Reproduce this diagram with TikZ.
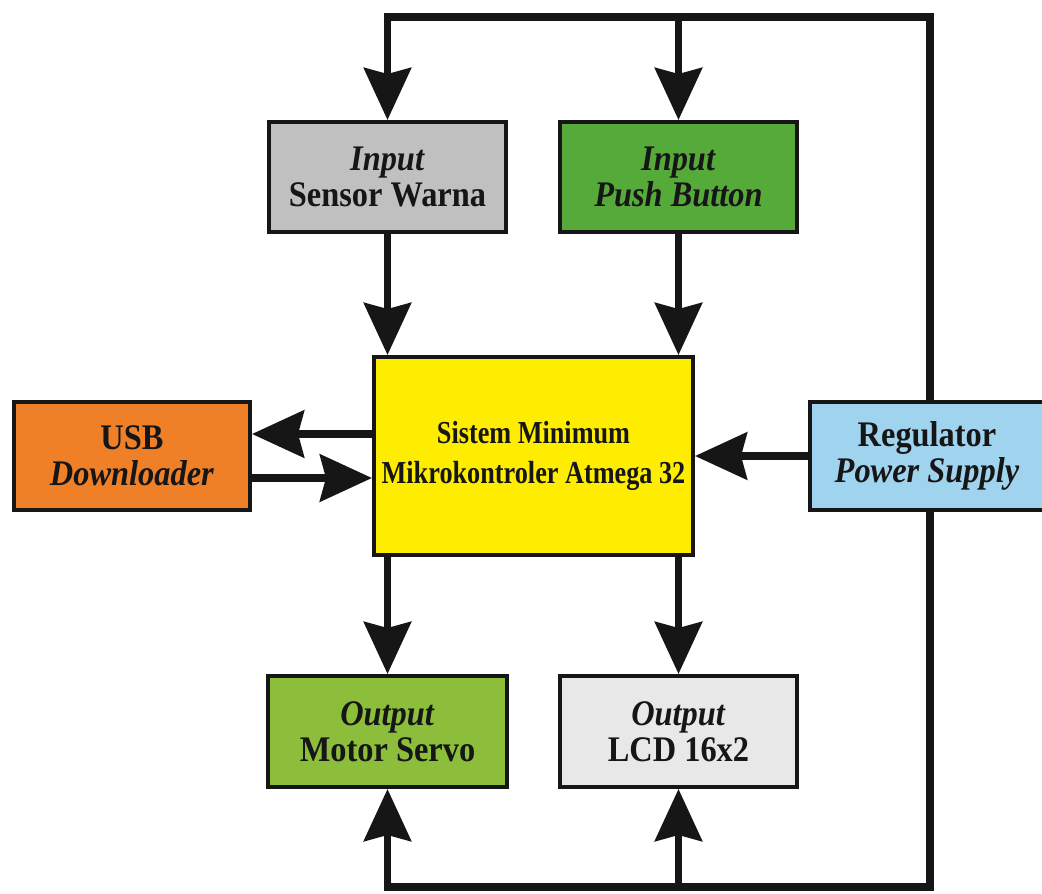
\documentclass[tikz,border=0pt]{standalone}
\usepackage{fontspec}
\setmainfont{Liberation Serif}
\newfontfamily\boxfont[FakeStretch=0.9]{Liberation Serif}
\newfontfamily\cenfont[FakeStretch=0.82]{Liberation Serif}
\usetikzlibrary{arrows.meta}
\definecolor{cgray}{RGB}{192,192,192}
\definecolor{cgreen}{RGB}{86,170,58}
\definecolor{cyellow}{RGB}{255,237,0}
\definecolor{corange}{RGB}{240,128,40}
\definecolor{cblue}{RGB}{160,212,238}
\definecolor{clgreen}{RGB}{140,190,60}
\definecolor{clgray}{RGB}{232,232,232}
\definecolor{cink}{RGB}{22,22,22}
\begin{document}
\begin{tikzpicture}[x=1pt,y=-1pt,
  blk/.style={draw=cink, line width=4pt, inner sep=0pt, align=center, text=cink,
    font=\boxfont\fontsize{36}{36}\selectfont\bfseries},
  cen/.style={blk, font=\cenfont\fontsize{32}{40}\selectfont\bfseries},
  wire/.style={line width=7.5pt, draw=cink, line join=miter, line cap=butt},
  arr/.style={wire, -{Stealth[length=52pt,width=47pt,inset=6pt]}}]
\clip (0,0) rectangle (1042,894);
\fill[white] (0,0) rectangle (1042,894);
% blocks
\node[blk, fill=cgray, minimum width=237pt, minimum height=110pt] (sensor) at (387.5,177) {\textit{Input}\\Sensor Warna};
\node[blk, fill=cgreen, minimum width=237pt, minimum height=110pt] (push) at (678.5,177) {\textit{Input}\\\textit{Push Button}};
\node[cen, fill=cyellow, minimum width=319pt, minimum height=198pt] (central) at (533.5,456) {Sistem Minimum\\Mikrokontroler Atmega 32};
\node[blk, fill=corange, minimum width=236pt, minimum height=108pt] (usb) at (132,456) {USB\\\textit{Downloader}};
\node[blk, fill=cblue, minimum width=234pt, minimum height=108pt] (reg) at (927,456) {Regulator\\\textit{Power Supply}};
\node[blk, fill=clgreen, minimum width=239pt, minimum height=111pt] (motor) at (387.5,731.5) {\textit{Output}\\Motor Servo};
\node[blk, fill=clgray, minimum width=237pt, minimum height=111pt] (lcd) at (678.5,731.5) {\textit{Output}\\LCD 16x2};
% power bus coordinates
\coordinate (tl) at (387.5,17);
\coordinate (tm) at (678.5,17);
\coordinate (tr) at (930,17);
\coordinate (bl) at (387.5,887);
\coordinate (bm) at (678.5,887);
\coordinate (br) at (930,887);
% connectors
\draw[arr] (tr |- reg.north) -- (tr) -- (tl) -- (sensor.north);
\draw[arr] (tm) -- (push.north);
\draw[arr] (tr |- reg.south) -- (br) -- (bl) -- (motor.south);
\draw[arr] (bm) -- (lcd.south);
\draw[arr] (sensor.south) -- (sensor.south |- central.north);
\draw[arr] (push.south) -- (push.south |- central.north);
\draw[arr] (motor.north |- central.south) -- (motor.north);
\draw[arr] (lcd.north |- central.south) -- (lcd.north);
\draw[arr] ([yshift=22pt]central.west) -- ([yshift=22pt]usb.east);
\draw[arr] ([yshift=-22pt]usb.east) -- ([yshift=-22pt]central.west);
\draw[arr] (reg.west) -- (central.east);
\end{tikzpicture}
\end{document}
